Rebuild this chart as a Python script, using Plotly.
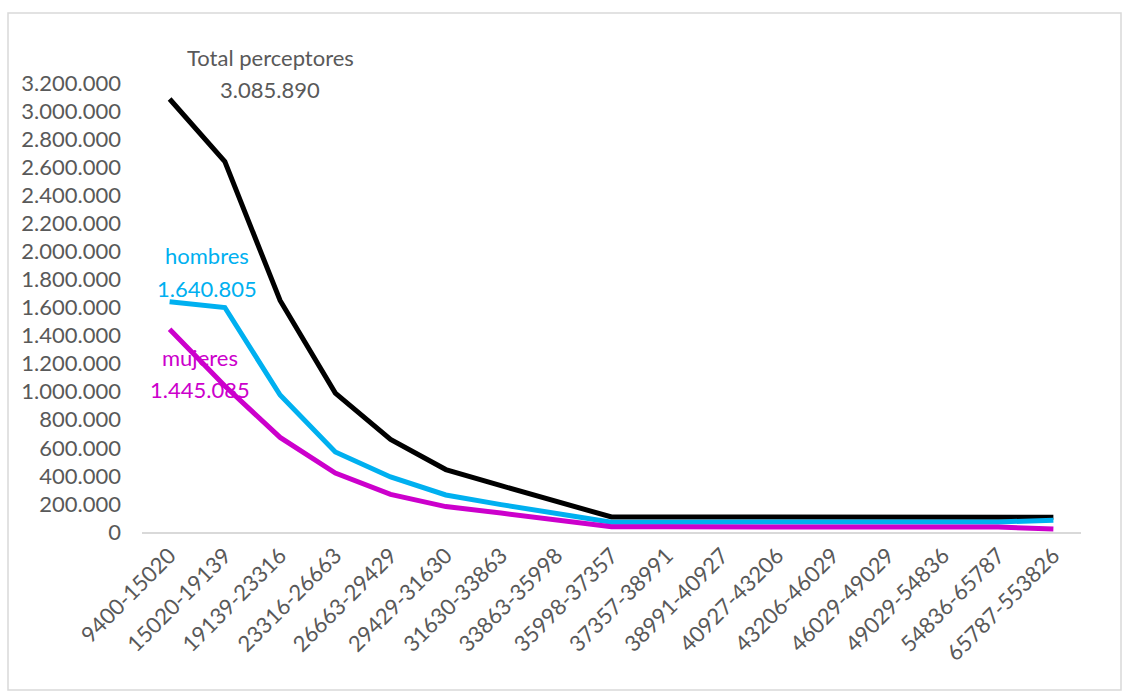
import plotly.graph_objects as go

# Income brackets (euros) and number of recipients per bracket
tramos = ["9400-15020", "15020-19139", "19139-23316", "23316-26663", "26663-29429",
          "29429-31630", "31630-33863", "33863-35998", "35998-37357", "37357-38991",
          "38991-40927", "40927-43206", "43206-46029", "46029-49029", "49029-54836",
          "54836-65787", "65787-553826"]

total = [3085890, 2640000, 1650000, 990000, 660000, 445000, 330000, 215000, 107000,
         107000, 107000, 107000, 107000, 107000, 107000, 107000, 105000]
hombres = [1640805, 1600000, 976000, 570000, 392000, 264000, 195000, 128000, 70000,
           70000, 70000, 70000, 70000, 70000, 70000, 72000, 83000]
mujeres = [1445085, 1040000, 674000, 420000, 268000, 181000, 135000, 87000, 37000,
           37000, 37000, 37000, 37000, 37000, 37000, 35000, 22000]

y_ticks = list(range(0, 3200001, 200000))
y_tick_text = [f"{v:,}".replace(",", ".") for v in y_ticks]

FONT = "Lato"
GREY = "#595959"
C_TOTAL = "#000000"
C_HOMBRES = "#00B0F0"
C_MUJERES = "#CC00CC"

fig = go.Figure()
for vals, color, name in [(total, C_TOTAL, "Total perceptores"),
                          (hombres, C_HOMBRES, "hombres"),
                          (mujeres, C_MUJERES, "mujeres")]:
    fig.add_trace(go.Scatter(x=tramos, y=vals, mode="lines", name=name,
                             line=dict(color=color, width=5),
                             hoverinfo="x+y"))

def fmt(v):
    return f"{v:,}".replace(",", ".")

# series labels, stacked name over value
labels = [
    (1.82, total[0], "Total perceptores", GREY, 42),
    (1.82, total[0], fmt(total[0]), GREY, 10),
    (0.67, hombres[0], "hombres", C_HOMBRES, 46),
    (0.67, hombres[0], fmt(hombres[0]), C_HOMBRES, 13),
    (0.55, mujeres[0], "mujeres", C_MUJERES, -28),
    (0.55, mujeres[0], fmt(mujeres[0]), C_MUJERES, -60),
]
for x, y, text, color, shift in labels:
    fig.add_annotation(x=x, y=y, xref="x", yref="y", text=text,
                       showarrow=False, yshift=shift,
                       font=dict(family=FONT, size=22, color=color))

L, R, T, B = 142, 49, 83, 168
W, H = 1130, 700
pw, ph = W - L - R, H - T - B
# outer chart frame
fig.add_shape(type="rect", xref="paper", yref="paper",
              x0=(8 - L) / pw, x1=(1121 - L) / pw,
              y0=(H - B - 690) / ph, y1=(H - B - 13) / ph,
              line=dict(color="#D9D9D9", width=1.5), layer="below")

fig.update_layout(
    width=W, height=H,
    margin=dict(l=L, r=R, t=T, b=B),
    paper_bgcolor="white", plot_bgcolor="white",
    showlegend=False,
    font=dict(family=FONT, size=22, color=GREY),
    xaxis=dict(type="category", range=[-0.5, len(tramos) - 0.5], tickangle=-45,
               showgrid=False, showline=True, linecolor="#D9D9D9", linewidth=2,
               ticks="", tickfont=dict(family=FONT, size=22, color=GREY),
               zeroline=False),
    yaxis=dict(range=[0, 3200000], tickvals=y_ticks, ticktext=y_tick_text,
               showgrid=False, zeroline=False, showline=False, ticks="",
               ticklabelstandoff=20,
               tickfont=dict(family=FONT, size=22, color=GREY)),
)

fig.write_html("out.html")
